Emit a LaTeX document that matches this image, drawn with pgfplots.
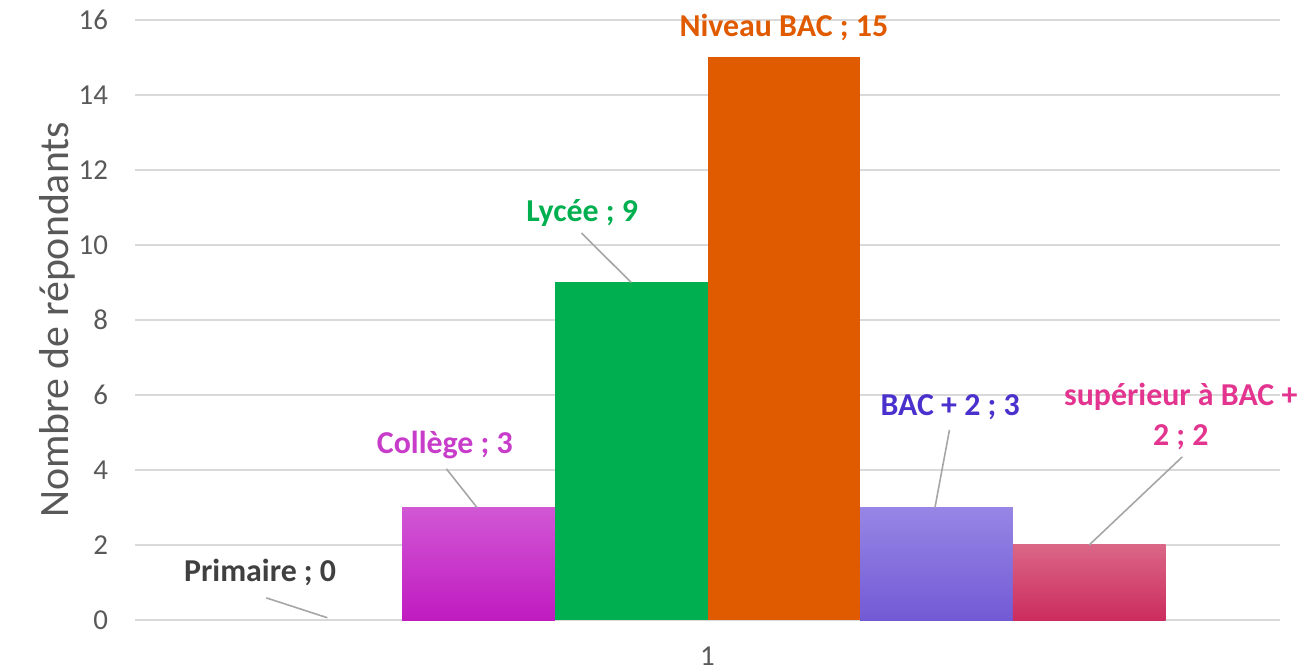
\documentclass[border=0pt]{standalone}
\usepackage{pgfplots}
\pgfplotsset{compat=1.18}
\usepackage{fontspec}
\setmainfont{Carlito}
\usetikzlibrary{calc}

\definecolor{gridgray}{HTML}{D9D9D9}
\definecolor{ticktext}{HTML}{595959}
\definecolor{leader}{HTML}{A6A6A6}
\definecolor{colTop}{HTML}{D157D4}
\definecolor{colBot}{HTML}{C01BC0}
\definecolor{colTxt}{HTML}{C73CC9}
\definecolor{lycee}{HTML}{00B050}
\definecolor{bac}{HTML}{E05A00}
\definecolor{b2Top}{HTML}{9786E5}
\definecolor{b2Bot}{HTML}{725AD5}
\definecolor{b2Txt}{HTML}{4A30CC}
\definecolor{supTop}{HTML}{DA6686}
\definecolor{supBot}{HTML}{CC2C5E}
\definecolor{supTxt}{HTML}{E3358F}
\definecolor{primTxt}{HTML}{404040}

\begin{document}
\begin{tikzpicture}
\begin{axis}[
  name=ax,
  scale only axis,
  width=572.5bp, height=300bp,
  xmin=-3.75, xmax=3.75,
  ymin=0, ymax=16,
  ytick={0,2,...,16},
  xtick={0}, xticklabels={1},
  ymajorgrids, grid style={gridgray, line width=0.8bp},
  axis lines*=left,
  y axis line style={draw=none},
  x axis line style={draw=gridgray, line width=0.8bp},
  major tick length=0pt,
  /pgf/number format/assume math mode=true,
  tick label style={font=\fontsize{14.5}{16}\selectfont, text=ticktext},
  yticklabel style={xshift=-10bp},
  xticklabel style={yshift=-10bp},
  ylabel={Nombre de répondants},
  ylabel shift=-5bp,
  ylabel style={font=\fontsize{21}{24}\selectfont, text=ticktext},
  clip=false,
]
% one bar per category, centred at -2.5 ... 2.5 (bar width = 1 unit)
\addplot[ybar, bar width=1, bar shift=0pt, draw=none, fill=none] coordinates {(-2.5,0)};
\addplot[ybar, bar width=1, bar shift=0pt, draw=none, top color=colTop, bottom color=colBot] coordinates {(-1.5,3)};
\addplot[ybar, bar width=1, bar shift=0pt, draw=none, fill=lycee] coordinates {(-0.5,9)};
\addplot[ybar, bar width=1, bar shift=0pt, draw=none, fill=bac] coordinates {(0.5,15)};
\addplot[ybar, bar width=1, bar shift=0pt, draw=none, top color=b2Top, bottom color=b2Bot] coordinates {(1.5,3)};
\addplot[ybar, bar width=1, bar shift=0pt, draw=none, top color=supTop, bottom color=supBot] coordinates {(2.5,2)};

% data labels with leader lines
\begin{scope}[every node/.style={font=\bfseries\fontsize{16}{20}\selectfont, align=center}]
\draw[leader, line width=0.8bp] (axis cs:-2.89,0.59) -- (axis cs:-2.49,0.06);
\node[text=primTxt] at (axis cs:-2.93,1.28) {Primaire ; 0};
\draw[leader, line width=0.8bp] (axis cs:-1.71,4.03) -- (axis cs:-1.51,3.0);
\node[text=colTxt] at (axis cs:-1.72,4.67) {Collège ; 3};
\draw[leader, line width=0.8bp] (axis cs:-0.825,10.32) -- (axis cs:-0.50,9.0);
\node[text=lycee] at (axis cs:-0.82,10.85) {Lycée ; 9};
\node[text=bac] at (axis cs:0.50,15.81) {Niveau BAC ; 15};
\draw[leader, line width=0.8bp] (axis cs:1.585,5.07) -- (axis cs:1.49,3.0);
\node[text=b2Txt] at (axis cs:1.59,5.68) {BAC + 2 ; 3};
\draw[leader, line width=0.8bp] (axis cs:3.11,4.35) -- (axis cs:2.50,2.0);
\node[text=supTxt] at (axis cs:3.10,5.43) {supérieur à BAC +\\2 ; 2};
\end{scope}
\end{axis}
\pgfresetboundingbox
\path[use as bounding box] ($(ax.south west)+(-67.5bp,-25.5bp)$) rectangle ($(ax.north east)+(13bp,10bp)$);
\end{tikzpicture}
\end{document}
